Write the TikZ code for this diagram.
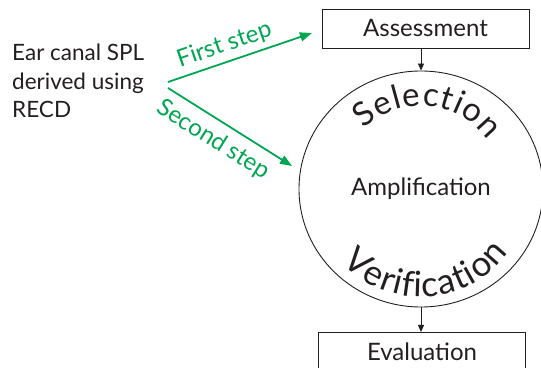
\documentclass[tikz,border=0pt]{standalone}
\usepackage{fontspec}
\setmainfont{Lato}
\usetikzlibrary{shapes.geometric,arrows.meta,decorations.text}
\definecolor{fgreen}{RGB}{0,166,81}
\definecolor{ink}{RGB}{35,31,32}
\begin{document}
\begin{tikzpicture}[x=1pt,y=1pt,
  box/.style={draw=ink, line width=0.9pt, minimum width=207pt, minimum height=39pt, inner sep=0pt, font=\fontsize{24}{28}\selectfont, text=ink},
  arr/.style={draw=ink, line width=0.9pt, -{Triangle[length=7pt,width=6pt]}},
  garr/.style={draw=fgreen, line width=1.8pt, -{Triangle[length=12pt,width=9pt]}},
  glabel/.style={text=fgreen, font=\fontsize{24}{28}\selectfont, inner sep=0pt},
  body/.style={text=ink, font=\fontsize{22.5}{28.5}\selectfont, inner sep=0pt, align=left},
  curved/.style n args={3}{decorate, decoration={text effects along path, text={#2}, text align=center,
      text effects/.cd, text along path, characters={font=\fontsize{#1}{#1}\selectfont, text=ink, inner xsep=#3},
      character widths={font=\fontsize{#1}{#1}\selectfont, inner xsep=#3}}},
]
\useasboundingbox (0,0) rectangle (541,367);
\node[box] (assess) at (425.5,338.5) {Assessment};
\node[box, anchor=north] (eval) at (422,35) {Evaluation};
\node[draw=ink, line width=0.9pt, ellipse, minimum width=244pt, minimum height=236pt, inner sep=0pt, font=\fontsize{24}{28}\selectfont, text=ink] (circ) at (421,178) {Amplification};
\node[body, anchor=north west] (ear) at (12,323) {Ear canal SPL\\derived using\\RECD};
\draw[arr] (assess.south -| circ.north) -- (circ.north);
\draw[arr] (circ.south) -- (circ.south |- eval.north);
\coordinate (s1) at (168,285);
\coordinate (t1) at (312,334);
\coordinate (s2) at (168,279);
\coordinate (t2) at (292,201);
\draw[garr] (s1) -- (t1) node[pos=0.43, above=5pt, sloped, glabel] (l1) {First step};
\draw[garr] (s2) -- (t2) node[pos=0.45, below=8pt, sloped, glabel] (l2) {Second step};
\path[curved={33}{Selection}{0.5pt}] (circ.center) ++(142:83) arc[start angle=142, end angle=28, radius=83];
\path[curved={35}{Verification}{0.5pt}] (circ.center) ++(208:108) arc[start angle=208, end angle=339, radius=108];
\end{tikzpicture}
\end{document}
